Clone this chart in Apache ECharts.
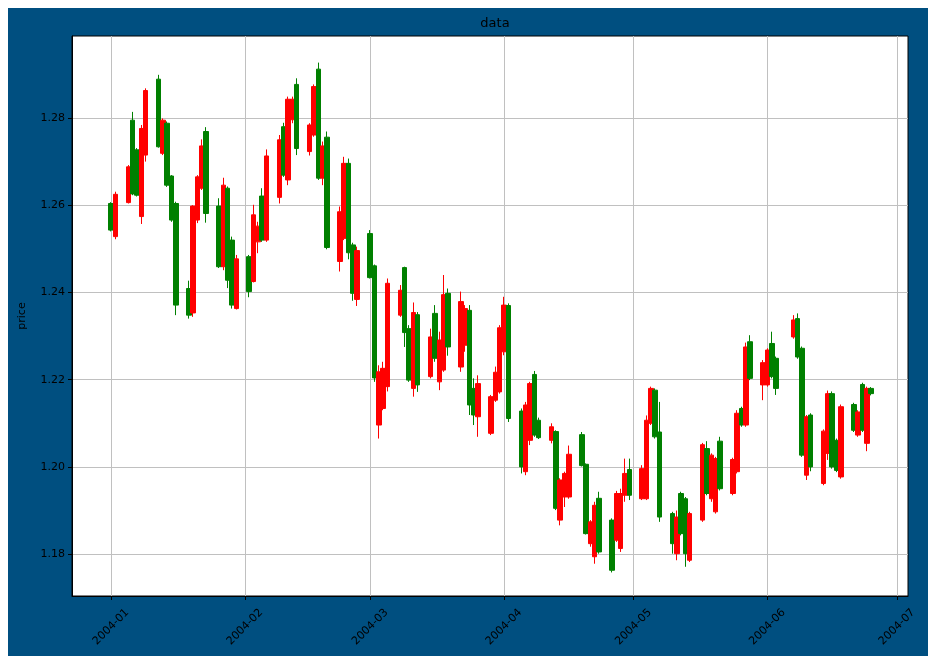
<!DOCTYPE html>
<html>
<head>
<meta charset="utf-8">
<script src="https://cdn.jsdelivr.net/npm/echarts@6/dist/echarts.min.js"></script>
<style>
    html, body { margin: 0; padding: 0; background: #fff; }
    #chart { position: absolute; left: 8px; top: 8px; width: 920px; height: 648px; }
</style>
</head>
<body>
<div id="chart"></div>
<script>
// daily bars, red = up, green = down
const dates = [
    '2004-01-01','2004-01-02','2004-01-05','2004-01-06','2004-01-07','2004-01-08','2004-01-09',
    '2004-01-12','2004-01-13','2004-01-14','2004-01-15','2004-01-16','2004-01-19','2004-01-20',
    '2004-01-21','2004-01-22','2004-01-23','2004-01-26','2004-01-27','2004-01-28','2004-01-29',
    '2004-01-30','2004-02-02','2004-02-03','2004-02-04','2004-02-05','2004-02-06','2004-02-09',
    '2004-02-10','2004-02-11','2004-02-12','2004-02-13','2004-02-16','2004-02-17','2004-02-18',
    '2004-02-19','2004-02-20','2004-02-23','2004-02-24','2004-02-25','2004-02-26','2004-02-27',
    '2004-03-01','2004-03-02','2004-03-03','2004-03-04','2004-03-05','2004-03-08','2004-03-09',
    '2004-03-10','2004-03-11','2004-03-12','2004-03-15','2004-03-16','2004-03-17','2004-03-18',
    '2004-03-19','2004-03-22','2004-03-23','2004-03-24','2004-03-25','2004-03-26','2004-03-29',
    '2004-03-30','2004-03-31','2004-04-01','2004-04-02','2004-04-05','2004-04-06','2004-04-07',
    '2004-04-08','2004-04-09','2004-04-12','2004-04-13','2004-04-14','2004-04-15','2004-04-16',
    '2004-04-19','2004-04-20','2004-04-21','2004-04-22','2004-04-23','2004-04-26','2004-04-27',
    '2004-04-28','2004-04-29','2004-04-30','2004-05-03','2004-05-04','2004-05-05','2004-05-06',
    '2004-05-07','2004-05-10','2004-05-11','2004-05-12','2004-05-13','2004-05-14','2004-05-17',
    '2004-05-18','2004-05-19','2004-05-20','2004-05-21','2004-05-24','2004-05-25','2004-05-26',
    '2004-05-27','2004-05-28','2004-05-31','2004-06-01','2004-06-02','2004-06-03','2004-06-07',
    '2004-06-08','2004-06-09','2004-06-10','2004-06-11','2004-06-14','2004-06-15','2004-06-16',
    '2004-06-17','2004-06-18','2004-06-21','2004-06-22','2004-06-23','2004-06-24','2004-06-25'
]
const opens = [
    1.2604,1.2528,1.2606,1.2795,1.2727,1.2574,1.2715,1.2889,1.2719,1.2788,1.2667,1.2604,1.2409,1.2353,
    1.2566,1.2639,1.2769,1.2598,1.2459,1.2639,1.2520,1.2363,1.2482,1.2425,1.2516,1.2621,1.2520,1.2618,
    1.2780,1.2658,1.2796,1.2877,1.2723,1.2761,1.2912,1.2662,1.2756,1.2471,1.2524,1.2696,1.2509,1.2384,
    1.2535,1.2461,1.2096,1.2134,1.2184,1.2348,1.2457,1.2317,1.2180,1.2349,1.2207,1.2352,1.2195,1.2222,
    1.2398,1.2229,1.2279,1.2359,1.2180,1.2115,1.2077,1.2153,1.2172,1.2264,1.2370,1.2128,1.1989,1.2061,
    1.2212,1.2107,1.2061,1.2081,1.1878,1.1931,1.1931,1.2074,1.2006,1.1824,1.1794,1.1928,1.1878,1.1832,
    1.1813,1.1935,1.1994,1.1927,1.1927,1.2100,1.2176,1.2080,1.1893,1.1801,1.1939,1.1927,1.1786,1.1878,
    1.2042,1.1927,1.1897,1.2059,1.1939,1.1989,1.2134,1.2096,1.2287,1.2188,1.2188,1.2283,1.2249,1.2298,
    1.2340,1.2272,1.1981,1.2119,1.1962,1.2031,1.2168,1.2061,1.1977,1.2143,1.2073,1.2189,1.2054,1.2180
]
const closes = [
    1.2543,1.2625,1.2688,1.2626,1.2623,1.2776,1.2863,1.2734,1.2795,1.2646,1.2566,1.2371,1.2348,1.2598,
    1.2665,1.2736,1.2581,1.2459,1.2646,1.2428,1.2371,1.2477,1.2402,1.2578,1.2552,1.2520,1.2713,1.2750,
    1.2669,1.2843,1.2843,1.2730,1.2784,1.2872,1.2662,1.2736,1.2503,1.2585,1.2696,1.2491,1.2398,1.2496,
    1.2434,1.2204,1.2218,1.2226,1.2421,1.2405,1.2308,1.2199,1.2354,1.2188,1.2298,1.2249,1.2291,1.2395,
    1.2275,1.2379,1.2363,1.2142,1.2119,1.2191,1.2161,1.2217,1.2319,1.2371,1.2111,1.2000,1.2142,1.2191,
    1.2073,1.2067,1.2092,1.1905,1.1970,1.1985,1.2029,1.2003,1.1847,1.1874,1.1912,1.1805,1.1763,1.1939,
    1.1939,1.1985,1.1935,1.1996,1.2107,1.2180,1.2069,1.1885,1.1824,1.1885,1.1847,1.1801,1.1893,1.2051,
    1.1939,1.2027,1.2019,1.1950,1.2017,1.2123,1.2096,1.2275,1.2203,1.2239,1.2268,1.2207,1.2180,1.2337,
    1.2252,1.2027,1.2115,1.2000,1.2082,1.2168,1.2000,1.1992,1.2138,1.2084,1.2126,1.2084,1.2180,1.2168
]
const lows = [
    1.2540,1.2522,1.2604,1.2623,1.2620,1.2557,1.2700,1.2732,1.2715,1.2642,1.2562,1.2348,1.2340,1.2344,
    1.2559,1.2635,1.2560,1.2456,1.2451,1.2410,1.2363,1.2361,1.2389,1.2423,1.2490,1.2516,1.2516,1.2604,
    1.2665,1.2646,1.2788,1.2715,1.2714,1.2757,1.2658,1.2646,1.2499,1.2448,1.2520,1.2476,1.2381,1.2369,
    1.2432,1.2195,1.2065,1.2130,1.2173,1.2344,1.2275,1.2195,1.2161,1.2172,1.2203,1.2241,1.2176,1.2218,
    1.2255,1.2218,1.2264,1.2119,1.2096,1.2069,1.2073,1.2149,1.2168,1.2256,1.2103,1.1985,1.1981,1.2050,
    1.2069,1.2064,1.2054,1.1901,1.1866,1.1908,1.1927,1.2001,1.1845,1.1817,1.1778,1.1801,1.1758,1.1828,
    1.1805,1.1920,1.1924,1.1924,1.1924,1.2096,1.2065,1.1874,1.1801,1.1786,1.1843,1.1771,1.1782,1.1874,
    1.1935,1.1920,1.1893,1.1946,1.1935,1.1985,1.2092,1.2092,1.2199,1.2153,1.2184,1.2203,1.2165,1.2294,
    1.2248,1.2023,1.1970,1.1990,1.1958,1.2016,1.1996,1.1988,1.1973,1.2080,1.2069,1.2080,1.2036,1.2164
]
const highs = [
    1.2607,1.2631,1.2692,1.2814,1.2731,1.2784,1.2868,1.2899,1.2799,1.2792,1.2669,1.2608,1.2427,1.2600,
    1.2669,1.2751,1.2779,1.2616,1.2663,1.2643,1.2528,1.2486,1.2486,1.2601,1.2562,1.2639,1.2728,1.2761,
    1.2789,1.2849,1.2849,1.2891,1.2788,1.2877,1.2927,1.2746,1.2769,1.2597,1.2711,1.2707,1.2514,1.2505,
    1.2543,1.2464,1.2233,1.2241,1.2432,1.2417,1.2459,1.2325,1.2377,1.2355,1.2317,1.2371,1.2310,1.2440,
    1.2409,1.2402,1.2371,1.2371,1.2203,1.2210,1.2165,1.2230,1.2325,1.2390,1.2375,1.2134,1.2149,1.2195,
    1.2220,1.2113,1.2100,1.2084,1.1974,1.1989,1.2049,1.2080,1.2008,1.1878,1.1920,1.1943,1.1882,1.1945,
    1.1950,1.2019,1.2019,1.2004,1.2118,1.2184,1.2180,1.2149,1.1897,1.1900,1.1943,1.1931,1.1897,1.2055,
    1.2059,1.2031,1.2023,1.2069,1.2021,1.2130,1.2138,1.2285,1.2302,1.2245,1.2272,1.2310,1.2253,1.2348,
    1.2352,1.2276,1.2119,1.2123,1.2086,1.2175,1.2173,1.2065,1.2143,1.2147,1.2130,1.2193,1.2184,1.2183
]
const monthTicks = ['2004-01-01','2004-02-01','2004-03-01','2004-04-01','2004-05-01','2004-06-01','2004-07-01']
const priceTicks = [1.18, 1.20, 1.22, 1.24, 1.26, 1.28]

function toUTC(s) {
    const p = s.split('-').map(Number)
    return Date.UTC(p[0], p[1] - 1, p[2])
}

const candles = dates.map((d, i) => [toUTC(d), opens[i], closes[i], lows[i], highs[i]])
const monthVals = monthTicks.map(toUTC)

const myChart = echarts.init(document.getElementById('chart'))
const font = 'DejaVu Sans'
const option = {
    animation: false,
    backgroundColor: '#004f80',
    textStyle: { fontFamily: font },
    title: {
        text: 'data',
        left: 482,
        top: 4,
        textAlign: 'center',
        textStyle: { color: '#000', fontSize: 13, fontWeight: 'normal', fontFamily: font }
    },
    grid: {
        left: 64,
        top: 28,
        right: 20,
        bottom: 60,
        show: true,
        backgroundColor: '#fff',
        borderColor: '#000',
        borderWidth: 1
    },
    xAxis: {
        type: 'value',
        min: Date.UTC(2003, 11, 22, 23),
        max: Date.UTC(2004, 6, 3, 13),
        axisLine: { show: true, onZero: false, lineStyle: { color: '#000' } },
        axisTick: { show: true, length: 4, customValues: monthVals, lineStyle: { color: '#000' } },
        axisLabel: {
            customValues: monthVals,
            rotate: 45,
            align: 'center',
            verticalAlign: 'middle',
            margin: 31,
            color: '#000',
            fontSize: 11,
            fontFamily: font,
            formatter: function (v) {
                const d = new Date(v)
                return d.getUTCFullYear() + '-' + String(d.getUTCMonth() + 1).padStart(2, '0')
            }
        },
        splitLine: { show: true, lineStyle: { color: '#c0c0c0', width: 1 } }
    },
    yAxis: {
        type: 'value',
        min: 1.1704,
        max: 1.2988,
        name: 'price',
        nameLocation: 'middle',
        nameGap: 44,
        nameRotate: 90,
        nameTextStyle: { color: '#000', fontSize: 11, fontFamily: font },
        axisLine: { show: true, lineStyle: { color: '#000' } },
        axisTick: { show: true, length: 4, customValues: priceTicks, lineStyle: { color: '#000' } },
        axisLabel: {
            customValues: priceTicks,
            color: '#000',
            fontSize: 11,
            fontFamily: font,
            margin: 7,
            formatter: v => v.toFixed(2)
        },
        splitLine: { show: true, lineStyle: { color: '#c0c0c0', width: 1 } }
    },
    series: [{
        type: 'candlestick',
        data: candles,
        encode: { x: 0, y: [1, 2, 3, 4] },
        barWidth: 5,
        itemStyle: {
            color: '#ff0000',
            color0: '#008000',
            borderColor: '#ff0000',
            borderColor0: '#008000',
            borderWidth: 1
        }
    }]
}
myChart.setOption(option)
</script>
</body>
</html>
